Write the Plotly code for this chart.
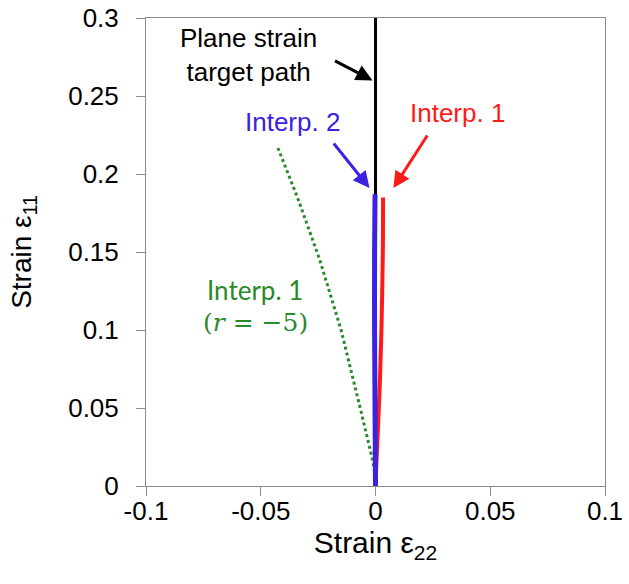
import plotly.graph_objects as go

# Strain paths (eps22, eps11)
target_e22 = [0.0, 0.0]
target_e11 = [0.0, 0.3]

interp1_e22 = [0.0, 0.0003, 0.0010, 0.0019, 0.0027, 0.0032, 0.0033]
interp1_e11 = [0.0, 0.012, 0.034, 0.066, 0.108, 0.151, 0.185]

interp2_e22 = [0.0, -0.0002, -0.0004, -0.0004, -0.0002]
interp2_e11 = [0.0, 0.05, 0.10, 0.15, 0.187]

interp1_r5_e22 = [0.0, -0.0013, -0.0065, -0.0150, -0.0243, -0.0340, -0.0426]
interp1_r5_e11 = [0.005, 0.017, 0.049, 0.100, 0.145, 0.185, 0.217]

x_ticks = [-0.1, -0.05, 0.0, 0.05, 0.1]
x_tick_text = ["-0.1", "-0.05", "0", "0.05", "0.1"]
y_ticks = [0.0, 0.05, 0.1, 0.15, 0.2, 0.25, 0.3]
y_tick_text = ["0", "0.05", "0.1", "0.15", "0.2", "0.25", "0.3"]

BLUE = "#3a22e0"
RED = "#ff1a1a"
GREEN = "#2a8a2a"
AXIS_GRAY = "#8c8c8c"
SANS = "Liberation Sans, Arial, sans-serif"

fig = go.Figure()
fig.add_trace(go.Scatter(x=target_e22, y=target_e11, mode="lines",
                         line=dict(color="black", width=3), showlegend=False))
fig.add_trace(go.Scatter(x=interp1_r5_e22, y=interp1_r5_e11, mode="lines",
                         line=dict(color=GREEN, width=3, dash="dot"), showlegend=False))
fig.add_trace(go.Scatter(x=interp1_e22, y=interp1_e11, mode="lines",
                         line=dict(color=RED, width=4, shape="spline"), showlegend=False))
fig.add_trace(go.Scatter(x=interp2_e22, y=interp2_e11, mode="lines",
                         line=dict(color=BLUE, width=5, shape="spline"), showlegend=False))

# Callout labels with arrows: (text, colour, text x, text y, tip x, tip y, tail x, tail y)
callouts = [
    ("Plane strain<br>target path", "black", -0.0553, 0.2763, -0.0013, 0.260, -0.0183, 0.273),
    ("Interp. 2", BLUE, -0.0362, 0.2333, -0.0026, 0.191, -0.0187, 0.2205),
    ("Interp. 1", RED, 0.0359, 0.2391, 0.0078, 0.191, 0.0230, 0.2256),
]
for text, color, tx, ty, hx, hy, sx, sy in callouts:
    fig.add_annotation(x=tx, y=ty, text=text, showarrow=False,
                       font=dict(family=SANS, size=26, color=color),
                       xanchor="center", yanchor="middle")
    fig.add_annotation(x=hx, y=hy, ax=sx, ay=sy, axref="x", ayref="y",
                       text="", showarrow=True, arrowhead=2, arrowsize=1.1,
                       arrowwidth=3, arrowcolor=color)

fig.add_annotation(x=-0.0527, y=0.1256, text="Interp. 1", showarrow=False,
                   font=dict(family="Lato, Open Sans, sans-serif", size=26, color=GREEN),
                   xanchor="center", yanchor="middle")
fig.add_annotation(x=-0.0525, y=0.1045, text="(<i>r</i> = −5)", showarrow=False,
                   font=dict(family="DejaVu Serif, serif", size=25, color=GREEN),
                   xanchor="center", yanchor="middle")

axis_common = dict(showline=True, mirror=True, linecolor=AXIS_GRAY, linewidth=1,
                   ticks="outside", ticklen=9, tickcolor=AXIS_GRAY, tickwidth=1,
                   showgrid=False, zeroline=False, automargin=False,
                   tickfont=dict(family=SANS, size=26, color="black"))

fig.update_xaxes(range=[-0.1, 0.1], tickvals=x_ticks, ticktext=x_tick_text,
                 ticklabelstandoff=-7,
                 title=dict(text="Strain ε<sub>22</sub>", standoff=0,
                            font=dict(family=SANS, size=30, color="black")),
                 **axis_common)
fig.update_yaxes(range=[0, 0.3], tickvals=y_ticks, ticktext=y_tick_text,
                 ticklabelstandoff=12,
                 title=dict(text="Strain ε<sub>11</sub>", standoff=28,
                            font=dict(family=SANS, size=28, color="black")),
                 **axis_common)

fig.update_layout(width=629, height=584, autosize=False,
                  margin=dict(l=146, r=24, t=18, b=98),
                  plot_bgcolor="white", paper_bgcolor="white")

fig.write_html("out.html")
